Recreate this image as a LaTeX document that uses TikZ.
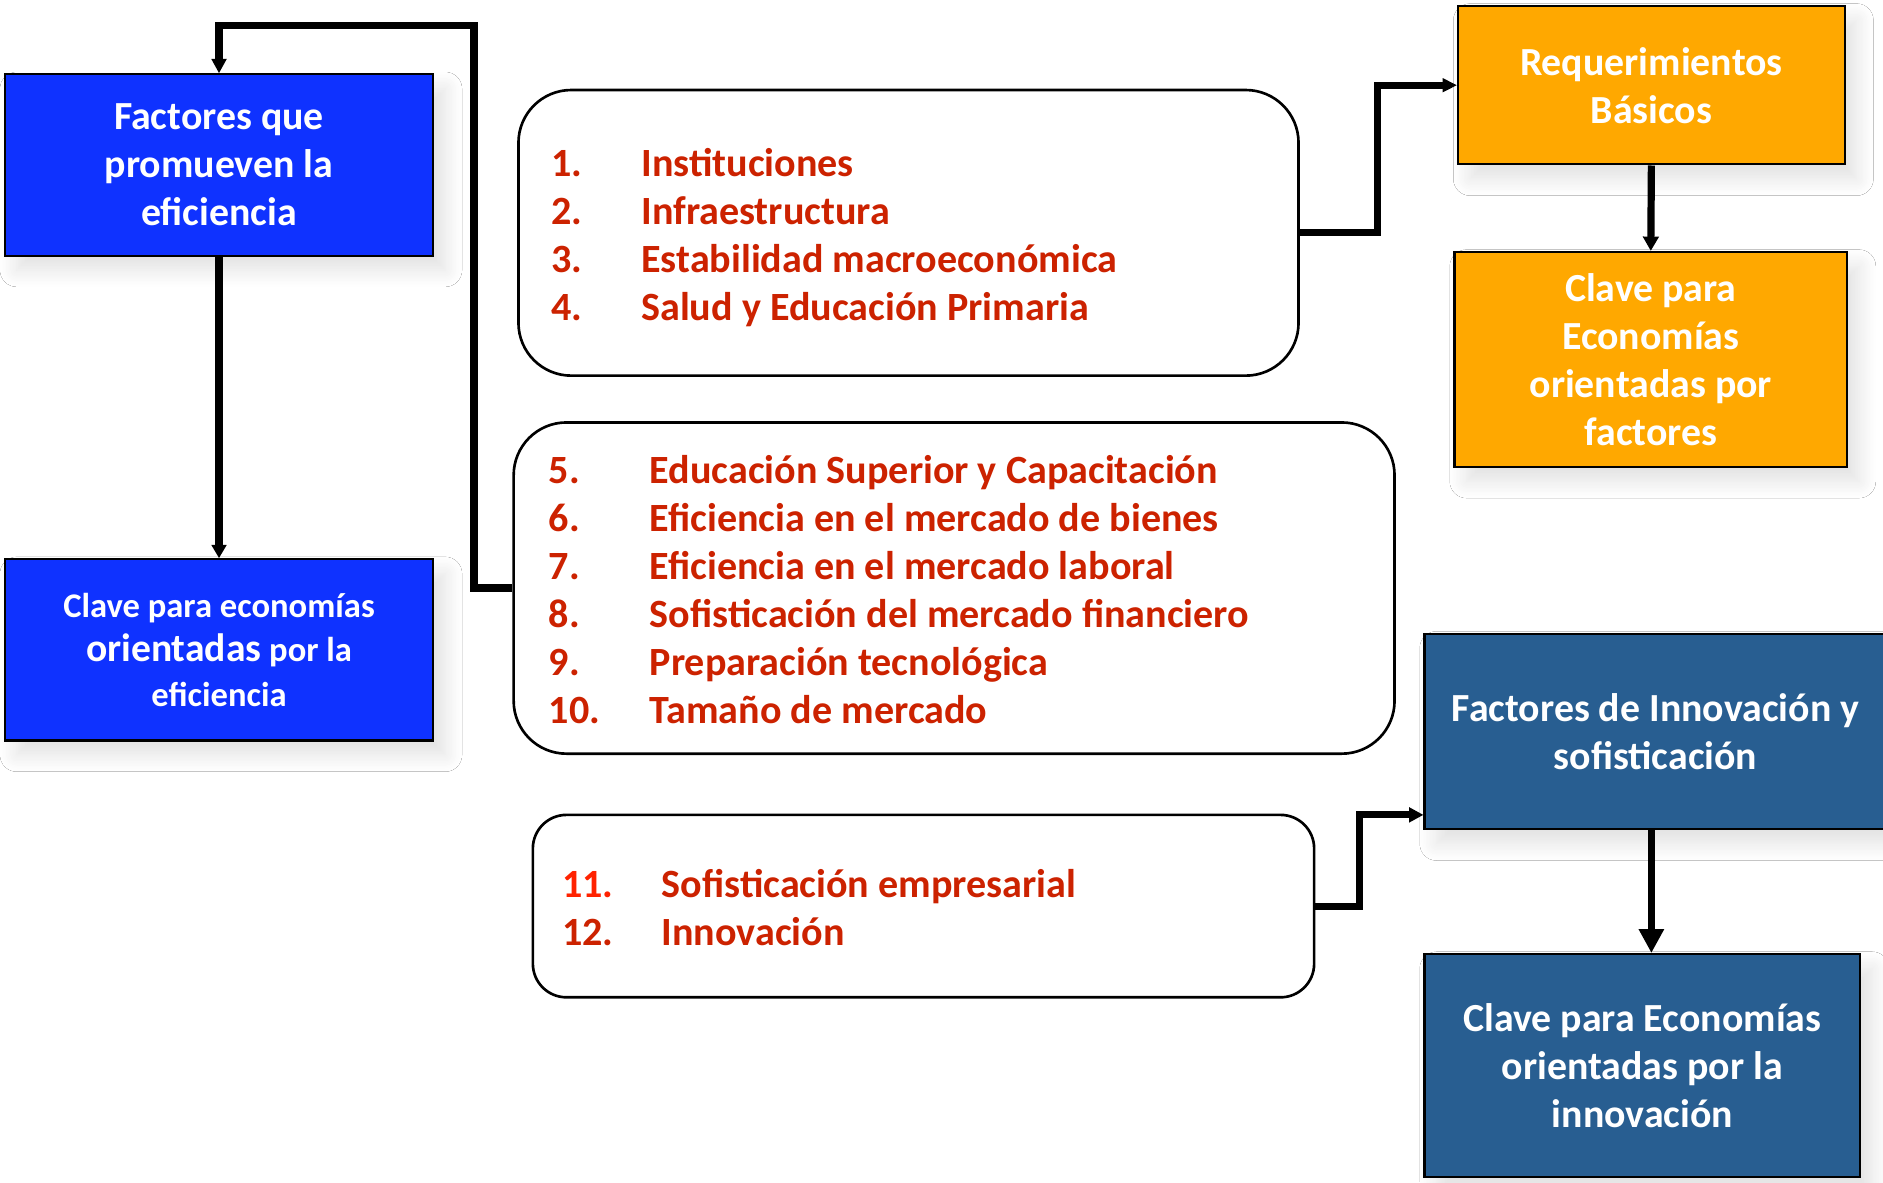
\documentclass[tikz,border=0pt]{standalone}
\usepackage{fontspec}
\setmainfont{Carlito}
\usetikzlibrary{arrows.meta,shadows.blur}
\definecolor{bbox}{RGB}{15,50,255}
\definecolor{obox}{RGB}{255,168,0}
\definecolor{dbox}{RGB}{40,94,145}
\definecolor{redtxt}{RGB}{204,34,0}
\definecolor{brred}{RGB}{255,34,0}
\tikzset{
  shad/.style={blur shadow={shadow xshift=5pt, shadow yshift=-6pt, shadow blur radius=7pt, shadow blur steps=12, shadow opacity=12}},
  sqbox/.style={draw=black, line width=0.9pt, shad, text=white, align=center, inner sep=0pt,
    font=\bfseries\fontsize{16.6}{20}\selectfont},
  bluebox/.style={sqbox, fill=bbox},
  orangebox/.style={sqbox, fill=obox},
  darkbox/.style={sqbox, fill=dbox},
  listbox/.style={draw=black, line width=1.1pt, fill=white, inner sep=0pt},
  item/.style={anchor=base west, inner sep=0pt, text=redtxt, font=\bfseries\fontsize{16.7}{20}\selectfont},
  conn/.style={line width=3pt, black},
}
\begin{document}
\begin{tikzpicture}[x=0.5pt,y=-0.5pt]
\useasboundingbox (0,0) rectangle (1569,985);
\fill[white] (0,0) rectangle (1569,985);

% left boxes
\node[bluebox, minimum width=178.5pt, minimum height=75.5pt] (A) at (182.5,137.5)
  {Factores que\\promueven la\\eficiencia};
\node[bluebox, minimum width=178.5pt, minimum height=75.5pt,
  font=\bfseries\fontsize{14.4}{18.5}\selectfont] (B) at (182.5,541.5)
  {Clave para economías\\{\fontsize{16.5}{18.5}\selectfont orientadas} por la\\eficiencia};

% list boxes
\node[listbox, rounded corners=22pt, minimum width=325pt, minimum height=119pt] (L1) at (757,194) {};
\node[listbox, rounded corners=22pt, minimum width=367pt, minimum height=138pt] (L2) at (795,490) {};
\node[listbox, rounded corners=14pt, minimum width=325.5pt, minimum height=76pt] (L3) at (769.5,755) {};

% list 1
\foreach \n/\t [count=\i from 0] in {1./Instituciones,2./Infraestructura,3./Estabilidad macroeconómica,4./Salud y Educación Primaria}{
  \node[item] (na\i) at (459,147+40*\i) {\n};
  \node[item] (ta\i) at (534,147+40*\i) {\t};
}
% list 2
\foreach \n/\t [count=\i from 0] in {5./Educación Superior y Capacitación,6./Eficiencia en el mercado de bienes,7./Eficiencia en el mercado laboral,8./Sofisticación del mercado financiero,9./Preparación tecnológica,10./Tamaño de mercado}{
  \node[item] (nb\i) at (457,403+40*\i) {\n};
  \node[item] (tb\i) at (541,403+40*\i) {\t};
}
% list 3
\node[item, text=brred] (nc0) at (468,748) {11.};
\node[item] (tc0) at (551,748) {Sofisticación empresarial};
\node[item] (nc1) at (468,788) {12.};
\node[item] (tc1) at (551,788) {Innovación};

% right boxes
\node[orangebox, minimum width=161pt, minimum height=66pt] (Req) at (1376,71)
  {Requerimientos\\Básicos};
\node[orangebox, minimum width=163.5pt, minimum height=89.5pt] (CF) at (1375.5,299.5)
  {Clave para\\Economías\\orientadas por\\factores};
\node[darkbox, minimum width=192.5pt, minimum height=81.5pt] (FI) at (1379.5,609.5)
  {Factores de Innovación y\\sofisticación};
\node[darkbox, minimum width=181.5pt, minimum height=93pt] (CI) at (1368.5,888)
  {Clave para Economías\\orientadas por la\\innovación};

% connectors
\coordinate (c1) at (395,21);
\draw[conn, -{Triangle[length=6pt,width=6pt]}] (L2.west) -| (c1) -| (A.north);
\draw[conn, -{Triangle[length=5.5pt,width=6pt]}] (A.south) -- (B.north);

\coordinate (c2) at (1148,71);
\draw[conn, -{Triangle[length=6pt,width=5.5pt]}] (L1.east) -| (c2) -- (Req.west);
\draw[conn, -{Triangle[length=6pt,width=6.4pt]}] (Req.south) -- (CF.north);

\coordinate (c3) at (1133,679);
\draw[conn, -{Triangle[length=6pt,width=6pt]}] (L3.east) -| (c3) -- (c3 -| FI.west);
\coordinate (c4) at (1376,750);
\draw[conn, -{Triangle[length=10pt,width=10pt]}] (c4 |- FI.south) -- (c4 |- CI.north);
\end{tikzpicture}
\end{document}
